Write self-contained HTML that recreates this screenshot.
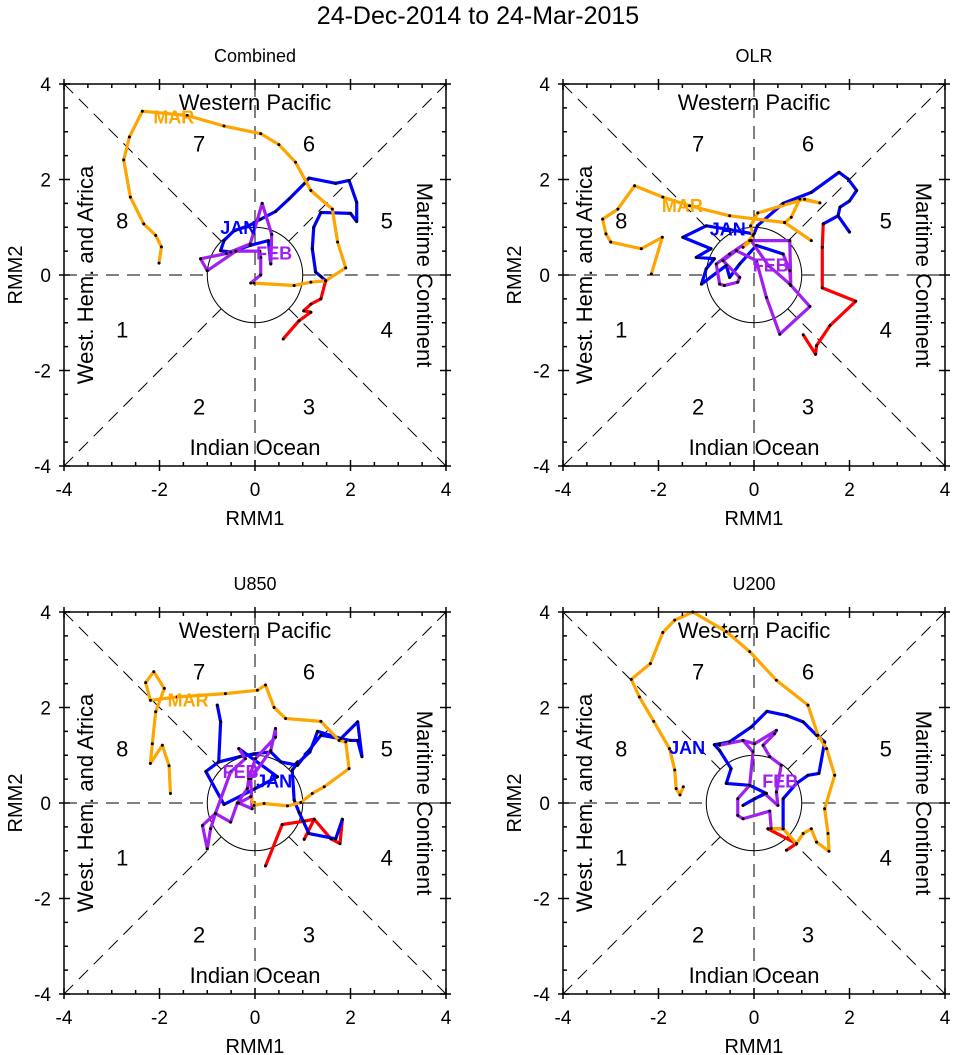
<!DOCTYPE html>
<html><head><meta charset="utf-8">
<style>
html,body{margin:0;padding:0;background:#fff;}
svg{display:block;font-family:"Liberation Sans",Arial,sans-serif;}
</style></head>
<body>
<svg id="chart" width="956" height="1055" viewBox="0 0 956 1055" xmlns="http://www.w3.org/2000/svg">
<text x="478" y="24" font-size="25" text-anchor="middle">24-Dec-2014 to 24-Mar-2015</text>
</svg>
<script>
// ---- data (RMM1, RMM2) per panel and month ----
const panelTitles = ["Combined","OLR","U850","U200"];
const comboDec = [[0.59,-1.34],[0.92,-0.96],[1.17,-0.78],[1.02,-0.75],[1.17,-0.61],[1.38,-0.50],[1.48,-0.12]];
const comboJan = [[1.48,-0.12],[1.38,-0.03],[1.27,0.06],[1.20,0.55],[1.23,1.0],[1.38,1.31],[2.0,1.29],[2.13,1.12],[2.13,1.52],[1.97,1.98],[1.69,1.92],[1.13,2.03],[1.03,1.91],[0.71,1.59],[0.43,1.33],[0.12,1.17],[-0.13,1.03],[-0.44,0.93],[-0.65,0.72],[-0.72,0.51],[-0.51,0.48],[-0.1,0.62],[0.28,0.72],[0.33,0.23]];
const comboFeb = [[0.33,0.23],[0.35,0.85],[0.15,1.5],[-0.1,0.65],[-0.6,0.45],[-1.14,0.34],[-1.0,0.09],[-0.4,0.5],[0.1,0.5],[0.12,0.37],[0.12,0.0],[-0.09,-0.17]];
const comboMar = [[-0.02,-0.17],[0.82,-0.22],[1.17,-0.15],[1.48,-0.12],[1.90,0.15],[1.73,0.69],[1.62,1.38],[1.17,1.77],[0.85,2.36],[0.50,2.73],[0.12,2.96],[-0.65,3.12],[-1.42,3.34],[-2.36,3.43],[-2.63,2.89],[-2.75,2.41],[-2.61,1.63],[-2.33,1.07],[-2.08,0.83],[-1.96,0.59],[-2.01,0.25]];
const olrDec = [[1.03,-1.25],[1.29,-1.66],[1.31,-1.48],[1.59,-1.06],[2.13,-0.55],[1.43,-0.27],[1.43,0.58],[1.45,1.07]];
const olrJan = [[1.45,1.07],[1.76,1.24],[2.0,0.9],[1.76,1.24],[1.8,1.42],[2.0,1.55],[2.15,1.77],[1.97,2.01],[1.78,2.15],[1.2,1.73],[0.61,1.5],[0.07,1.03],[0.0,0.86],[-0.5,0.95],[-1.0,1.03],[-1.49,0.79],[-0.9,0.55],[-1.21,0.37],[-0.83,0.34],[-1.0,0.13],[-1.1,-0.19],[-0.58,0.2],[-0.51,-0.05],[-0.3,0.23],[0.05,0.62],[0.61,0.44]];
const olrFeb = [[0.61,0.44],[0.75,0.09],[0.77,-0.22],[0.75,0.72],[-0.09,0.72],[-0.51,0.44],[-0.79,0.23],[-0.72,-0.19],[-0.62,-0.22],[-0.34,-0.15],[-0.3,-0.05],[-0.65,0.3],[-0.37,0.51],[0.05,0.3],[0.26,-0.47],[0.54,-1.24],[1.17,-0.66],[0.75,-0.19],[0.3,0.2],[-0.06,0.72]];
const olrMar = [[-0.06,0.72],[-0.23,0.58],[-0.02,0.83],[-0.07,1.03],[0.08,1.3],[1.06,1.59],[1.38,1.51],[0.96,1.59],[0.78,1.21],[0.64,1.1],[1.2,0.72],[0.64,1.1],[-0.51,1.24],[-1.35,1.45],[-1.91,1.63],[-2.5,1.87],[-2.85,1.38],[-3.17,1.17],[-3.1,0.86],[-3.0,0.69],[-2.36,0.55],[-1.92,0.79],[-2.15,0.02]];
const u850Dec = [[0.22,-1.32],[0.57,-0.45],[1.03,-0.38],[1.24,-0.34],[1.03,-0.76],[1.24,-0.34],[1.59,-0.75],[1.78,-0.85],[1.83,-0.34]];
const u850Jan = [[1.83,-0.34],[1.69,-0.75],[1.13,-0.64],[0.92,-0.19],[0.82,0.06],[0.78,0.69],[0.89,0.83],[1.15,1.07],[1.31,1.5],[1.8,1.35],[2.15,1.7],[2.24,0.97],[2.15,1.31],[2.0,1.31],[1.38,1.42],[0.89,0.79],[0.54,0.86],[0.33,1.07],[-0.02,1.03],[-0.32,0.97],[-0.76,0.86],[-0.72,1.7],[-0.79,2.05],[-0.72,1.7],[-0.76,0.86],[-1.03,0.66],[-0.65,-0.03],[0.0,0.3],[0.47,0.55],[-0.34,1.14]];
const u850Feb = [[-0.34,1.14],[-0.2,0.93],[-0.51,0.65],[-0.83,-0.22],[-1.1,-0.47],[-1.0,-0.96],[-0.93,-0.54],[-0.83,-0.22],[-0.51,-0.4],[-0.37,0.0],[-0.16,0.3],[-0.13,0.51],[0.01,0.93],[0.43,1.38],[0.43,1.56],[0.33,1.1],[-0.09,0.51],[-0.06,-0.12],[-0.34,0.0],[-0.09,0.13]];
const u850Mar = [[-0.09,0.13],[-0.02,-0.05],[0.19,-0.01],[0.68,-0.06],[0.96,0.01],[1.2,0.2],[1.45,0.34],[1.97,0.72],[1.9,1.28],[1.76,1.31],[1.38,1.71],[0.64,1.77],[0.4,2.0],[0.22,2.47],[0.05,2.36],[-0.62,2.29],[-1.63,2.22],[-2.19,2.15],[-2.29,2.52],[-2.12,2.75],[-1.9,2.4],[-2.08,1.91],[-2.15,1.24],[-2.19,0.83],[-1.94,1.21],[-1.8,0.78],[-1.77,0.2]];
const u200Dec = [[0.68,-0.99],[0.89,-0.85],[0.29,-0.54],[0.61,-0.54]];
const u200Jan = [[0.61,-0.54],[0.61,0.09],[0.89,0.41],[1.13,0.58],[1.36,0.62],[1.48,1.28],[1.31,1.42],[1.03,1.7],[0.69,1.83],[0.27,1.92],[-0.06,1.59],[-0.51,1.28],[-0.72,1.24],[-0.83,1.22],[-0.72,1.1],[-0.48,0.72],[-0.58,0.41],[-0.09,0.37],[0.26,0.2],[0.01,0.09],[-0.23,-0.05],[0.22,0.2]];
const u200Feb = [[0.22,0.2],[0.5,-0.05],[0.47,0.23],[0.57,0.79],[0.33,0.97],[0.19,1.21],[0.43,1.45],[0.47,1.52],[0.01,1.24],[-0.23,1.31],[-0.72,1.21],[-0.23,1.31],[-0.02,1.07],[-0.09,0.37],[-0.34,0.09],[-0.34,-0.26],[-0.23,-0.33],[0.33,-0.17],[0.36,-0.54]];
const u200Mar = [[0.36,-0.54],[0.61,-0.54],[0.89,-0.85],[1.03,-0.64],[1.2,-0.54],[1.31,-0.82],[1.57,-1.01],[1.55,-0.64],[1.48,-0.12],[1.69,0.58],[1.52,1.14],[1.34,1.42],[1.13,2.05],[0.47,2.57],[-0.09,3.17],[-0.58,3.59],[-1.28,4.0],[-1.66,3.83],[-1.91,3.57],[-2.17,2.92],[-2.57,2.59],[-2.4,2.22],[-2.1,1.71],[-1.77,1.14],[-1.66,0.69],[-1.63,0.3],[-1.55,0.17],[-1.48,0.34]];
const monthLabels = ["JAN","FEB","MAR"];
const comboLabelPos = [[-0.35,0.98],[0.4,0.45],[-1.7,3.3]];
const olrLabelPos = [[-0.55,0.95],[0.35,0.2],[-1.5,1.45]];
const u850LabelPos = [[0.4,0.45],[-0.3,0.65],[-1.4,2.15]];
const u200LabelPos = [[-1.4,1.15],[0.55,0.45],null];
const axisTicks = [-4,-2,0,2,4];

const panelSeries = [[comboDec,comboJan,comboFeb,comboMar],[olrDec,olrJan,olrFeb,olrMar],[u850Dec,u850Jan,u850Feb,u850Mar],[u200Dec,u200Jan,u200Feb,u200Mar]];
const panelLabels = [comboLabelPos,olrLabelPos,u850LabelPos,u200LabelPos];
const monthColors = ["#ff0000","#0000ff","#a020f0","#ffa500"];
const labelColors = ["#0000ff","#a020f0","#ffa500"];
const origins = [[64,84],[563,84],[64,612],[563,612]];
const W = 382, S = W/8;
const NS = "http://www.w3.org/2000/svg";
const svg = document.getElementById('chart');

function mk(tag, attrs, parent){
  const e = document.createElementNS(NS, tag);
  for (const k in attrs) e.setAttribute(k, attrs[k]);
  (parent||svg).appendChild(e);
  return e;
}

origins.forEach((o, pi) => {
  const x0 = o[0], y0 = o[1];
  const sx = v => x0 + (v + 4) * S;
  const sy = v => y0 + (4 - v) * S;
  const g = mk('g', {});
  
  

  const t = mk('text', {x: x0 + W/2, y: y0 - 22, 'font-size': 18, 'text-anchor': 'middle'}, g);
  t.textContent = panelTitles[pi];
  
  

  const dash = {stroke: '#000', 'stroke-width': 1, 'stroke-dasharray': '13,8', fill: 'none'};
  const c = 0.7071;
  [[-4,-4,-c,-c],[c,c,4,4],[-4,4,-c,c],[c,-c,4,-4],[-4,0,-1,0],[1,0,4,0]].forEach(s => {
    const l = mk('line', Object.assign({x1: sx(s[0]), y1: sy(s[1]), x2: sx(s[2]), y2: sy(s[3])}, dash), g);
    
    
  });
  const vl = mk('line', Object.assign({x1: sx(0), y1: sy(4), x2: sx(0), y2: sy(-4)}, dash), g);
  
  
  const circ = mk('circle', {cx: sx(0), cy: sy(0), r: S, fill: 'none', stroke: '#000', 'stroke-width': 1}, g);
  
  

  const reg = [["Western Pacific", x0+W/2, y0+26, 0],["Indian Ocean", x0+W/2, y0+W-11, 0]];
  reg.forEach(r => {
    const e = mk('text', {x: r[1], y: r[2], 'font-size': 22, 'text-anchor': 'middle'}, g);
    e.textContent = r[0];
    
    
  });
  const wl = mk('text', {x: 0, y: 0, 'font-size': 22, 'text-anchor': 'middle', transform: `translate(${x0+29},${y0+W/2}) rotate(-90)`}, g);
  wl.textContent = "West. Hem. and Africa";
  
  
  const ml = mk('text', {x: 0, y: 0, 'font-size': 22, 'text-anchor': 'middle', transform: `translate(${x0+W-29},${y0+W/2}) rotate(90)`}, g);
  ml.textContent = "Maritime Continent";
  
  
  const phases = [[1,-2.78,-1.14],[2,-1.17,-2.75],[3,1.13,-2.75],[4,2.76,-1.14],[5,2.76,1.14],[6,1.13,2.75],[7,-1.17,2.75],[8,-2.78,1.14]];
  phases.forEach(p => {
    const e = mk('text', {x: sx(p[1]), y: sy(p[2]) + 8, 'font-size': 22, 'text-anchor': 'middle'}, g);
    e.textContent = p[0];
    
    
  });

  panelSeries[pi].forEach((ser, mi) => {
    const pts = ser.map(p => sx(p[0]) + ',' + sy(p[1])).join(' ');
    const pl = mk('polyline', {points: pts, fill: 'none', stroke: monthColors[mi], 'stroke-width': 3.2, 'stroke-linejoin': 'round'}, g);
    
    
  });
  panelSeries[pi].forEach(ser => {
    ser.forEach(p => {
      const d = mk('circle', {cx: sx(p[0]), cy: sy(p[1]), r: 1.5, fill: '#000'}, g);
      
      
    });
  });
  panelLabels[pi].forEach((lp, li) => {
    if (!lp) return;
    const e = mk('text', {x: sx(lp[0]), y: sy(lp[1]) + 6, 'font-size': 18, 'font-weight': 'bold', fill: labelColors[li], 'text-anchor': 'middle'}, g);
    e.textContent = monthLabels[li];
    
    
  });

  const fr = mk('rect', {x: x0, y: y0, width: W, height: W, fill: 'none', stroke: '#000', 'stroke-width': 1.5}, g);
  
  
  for (let v = -4; v <= 4.001; v += 0.5) {
    const major = Math.abs(v % 2) < 0.01;
    const inL = major ? 6 : 4, outL = major ? 5 : 0;
    mk('line', {x1: sx(v), y1: y0+W+outL, x2: sx(v), y2: y0+W-inL, stroke: '#000', 'stroke-width': 1.5}, g);
    mk('line', {x1: sx(v), y1: y0-outL, x2: sx(v), y2: y0+inL, stroke: '#000', 'stroke-width': 1.5}, g);
    mk('line', {x1: x0-outL, y1: sy(v), x2: x0+inL, y2: sy(v), stroke: '#000', 'stroke-width': 1.5}, g);
    mk('line', {x1: x0+W+outL, y1: sy(v), x2: x0+W-inL, y2: sy(v), stroke: '#000', 'stroke-width': 1.5}, g);
  }
  axisTicks.forEach(v => {
    const tx = mk('text', {x: sx(v), y: y0 + W + 30, 'font-size': 19, 'text-anchor': 'middle'}, g);
    tx.textContent = v;
    
    
    const ty = mk('text', {x: x0 - 13, y: sy(v) + 7, 'font-size': 19, 'text-anchor': 'end'}, g);
    ty.textContent = v;
    
    
  });
  const xt = mk('text', {x: x0 + W/2, y: y0 + W + 59, 'font-size': 20, 'text-anchor': 'middle'}, g);
  xt.textContent = "RMM1";
  
  
  const yt = mk('text', {x: 0, y: 0, 'font-size': 20, 'text-anchor': 'middle', transform: `translate(${x0-42},${y0+W/2}) rotate(-90)`}, g);
  yt.textContent = "RMM2";
  
  
});
</script>
</body></html>
